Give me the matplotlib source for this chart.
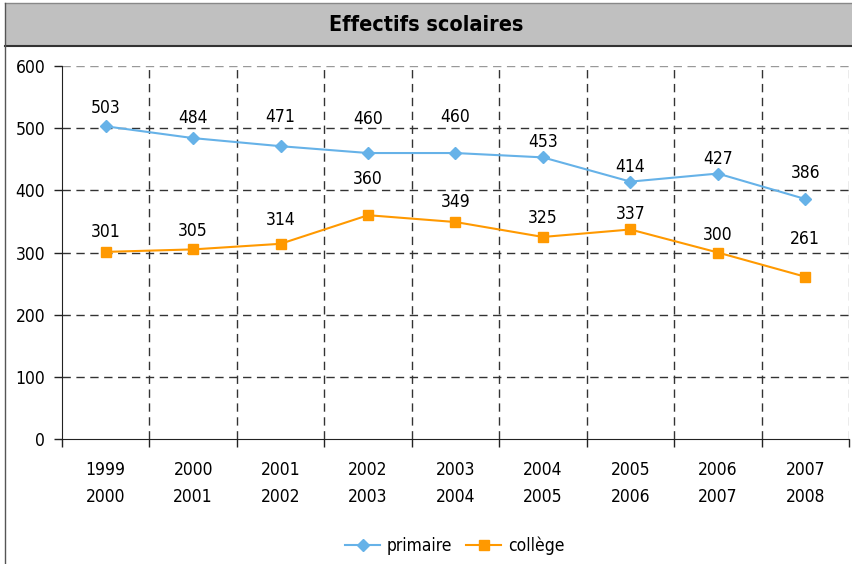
import matplotlib
matplotlib.use("Agg")
import matplotlib.pyplot as plt
from matplotlib.patches import Rectangle
from matplotlib.lines import Line2D
import numpy as np

plt.rcParams['font.family'] = ['DejaVu Sans']
plt.rcParams['font.stretch'] = 'condensed'

categories = ["1999\n2000", "2000\n2001", "2001\n2002", "2002\n2003", "2003\n2004",
              "2004\n2005", "2005\n2006", "2006\n2007", "2007\n2008"]
primaire = [503, 484, 471, 460, 460, 453, 414, 427, 386]
college = [301, 305, 314, 360, 349, 325, 337, 300, 261]
yticks = [0, 100, 200, 300, 400, 500, 600]

# label offsets above the markers, in pixels
off_primaire = [18, 20, 29, 34, 36, 15, 15, 15, 26]
off_college = [20, 18, 24, 36, 20, 19, 15, 17, 38]

W, H = 853, 564
fig = plt.figure(figsize=(W / 100, H / 100), dpi=100)

fig.patches.append(Rectangle((5 / W, 1 - 46 / H), 1 - 5 / W, 43 / H, transform=fig.transFigure,
                             facecolor="#c0c0c0", edgecolor="none", zorder=0))
fig.lines.append(Line2D([5 / W, 1], [1 - 46 / H, 1 - 46 / H], transform=fig.transFigure,
                        color="#333333", lw=1.5))
fig.lines.append(Line2D([5 / W, 1], [1 - 3 / H, 1 - 3 / H], transform=fig.transFigure,
                        color="#888888", lw=1))
fig.lines.append(Line2D([5 / W, 5 / W], [0, 1 - 3 / H], transform=fig.transFigure,
                        color="#555555", lw=1))
fig.text(0.5, 1 - 25 / H, "Effectifs scolaires", ha="center", va="center",
         fontsize=15.5, fontweight="bold")

ax = fig.add_axes([62 / W, 1 - 439 / H, (849 - 62) / W, (439 - 66) / H])
n = len(categories)
x = np.arange(n)
ax.set_xlim(-0.5, n - 0.5)
ax.set_ylim(0, 600)

for y in yticks[1:]:
    ax.axhline(y, color="#999999" if y == 600 else "#333333", lw=1, ls=(0, (6, 4)), zorder=1)
for b in np.arange(0.5, n, 1.0):
    ax.axvline(b, color="#999999" if b > n - 1 else "#333333", lw=1, ls=(0, (6, 4)), zorder=1)

ax.plot(x, primaire, color="#66b2e8", lw=1.5, marker="D", ms=6, zorder=3, label="primaire")
ax.plot(x, college, color="#ff9900", lw=1.5, marker="s", ms=7, zorder=3, label="collège")

for xi, v, o in zip(x, primaire, off_primaire):
    ax.annotate(str(v), (xi, v), xytext=(0, o * 0.72), textcoords="offset points",
                ha="center", va="center", fontsize=12.5)
for xi, v, o in zip(x, college, off_college):
    ax.annotate(str(v), (xi, v), xytext=(0, o * 0.72), textcoords="offset points",
                ha="center", va="center", fontsize=12.5)

ax.set_yticks(yticks)
ax.set_yticklabels([str(v) for v in yticks], fontsize=12.5)
ax.set_xticks(x)
ax.set_xticklabels(categories, fontsize=12.5, linespacing=1.6)
ax.tick_params(axis="x", length=0, pad=16)
ax.tick_params(axis="y", length=6, width=1, color="#222222", pad=6)
ax.set_xticks(np.arange(-0.5, n, 1.0), minor=True)
ax.tick_params(axis="x", which="minor", length=6, width=1, color="#222222")

for s in ["top", "right"]:
    ax.spines[s].set_visible(False)
ax.spines["left"].set_color("#222222")
ax.spines["bottom"].set_color("#222222")

leg = fig.legend(loc="center", bbox_to_anchor=(455 / W, 1 - 546 / H), ncol=2, frameon=False,
                 fontsize=12.5, handlelength=2.0, columnspacing=0.8, handletextpad=0.4)

fig.savefig("out.png", dpi=100)
